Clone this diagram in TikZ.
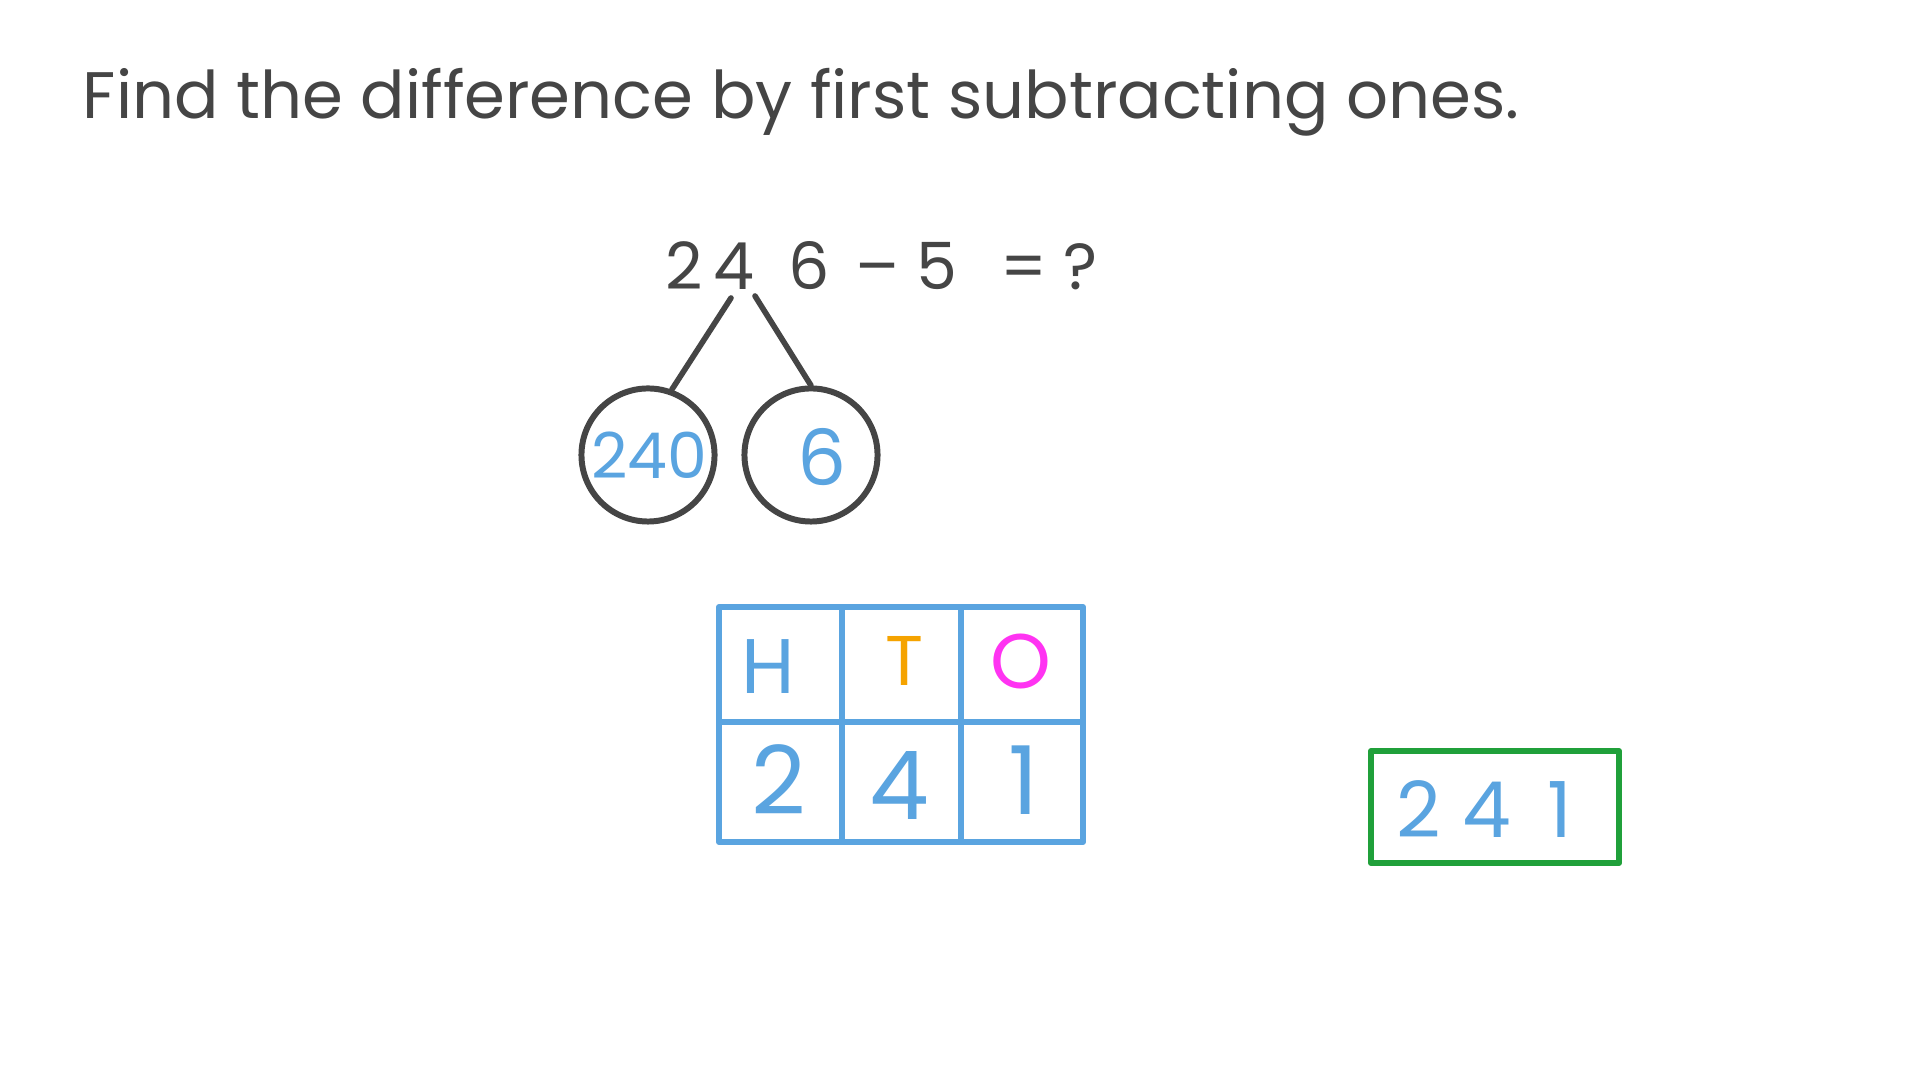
\documentclass[tikz,border=0pt]{standalone}
\usepackage{fontspec}
\setmainfont{Poppins}
\definecolor{ink}{HTML}{454545}
\definecolor{bl}{HTML}{5AA4E0}
\definecolor{org}{HTML}{F5A300}
\definecolor{mag}{HTML}{FF33F2}
\definecolor{grn}{HTML}{20A03A}
\tikzset{
  txt/.style={inner sep=0pt, outer sep=0pt},
  ring/.style={circle, draw=ink, line width=1.7pt, minimum size=1.33cm, inner sep=0pt},
  stem/.style={draw=ink, line width=1.6pt, line cap=round},
  grid/.style={draw=bl, line width=1.7pt, line cap=round, line join=round},
  answer/.style={draw=grn, line width=1.7pt, line join=round, minimum width=2.48cm, minimum height=1.12cm, inner sep=0pt}
}
\begin{document}
\begin{tikzpicture}[x=0.01cm,y=-0.01cm]
\useasboundingbox[fill=white] (0,0) rectangle (1920,1080);
% title
\node[txt, anchor=base west, text=ink, font=\fontsize{18.7}{22}\selectfont] (title) at (83,119)
  {Find the difference by first subtracting ones.};
% equation
\node[txt, anchor=base west, text=ink, font=\fontsize{18.5}{22}\selectfont] (eq) at (665,290)
  {\makebox[13.9pt][l]{2}\makebox[21.1pt][l]{4}\makebox[19.1pt][l]{6}\makebox[17.3pt][l]{–}\makebox[23.9pt][l]{5}\makebox[18pt][l]{=}?};
\coordinate (t1) at (731,298);
\coordinate (t2) at (755,296);
% circles
\node[ring] (c1) at (648,455) {};
\node[ring] (c2) at (811,455) {};
\node[txt, text=bl, font=\fontsize{18}{22}\selectfont] (n240) at (649,455) {240};
\node[txt, text=bl, font=\fontsize{22}{26}\selectfont] (n6) at (822,457) {6};
\draw[stem] (t1) -- (c1.70);
\draw[stem] (t2) -- (c2.90);
% place value table
\draw[grid] (719,607) rectangle (1083,842);
\draw[grid] (719,722) -- (1083,722);
\draw[grid] (842,607) -- (842,842);
\draw[grid] (961,607) -- (961,842);
\node[txt, text=bl, font=\fontsize{22}{26}\selectfont] (hH) at (768,667) {H};
\node[txt, text=org, font=\fontsize{20}{24}\selectfont] (hT) at (905,661) {T};
\node[txt, text=mag, font=\fontsize{22}{26}\selectfont] (hO) at (1021,662) {O};
\node[txt, text=bl, font=\fontsize{27}{30}\selectfont] (d2) at (779,780) {2};
\node[txt, text=bl, font=\fontsize{27}{30}\selectfont] (d4) at (899,786) {4};
\node[txt, text=bl, font=\fontsize{27}{30}\selectfont] (d1) at (1024,780) {1};
% answer
\node[answer] (ans) at (1495,807) {};
\node[txt, anchor=base west, text=bl, font=\fontsize{22}{26}\selectfont] (ansText) at (1396,838)
  {\makebox[18.8pt][l]{2}\makebox[24.2pt][l]{4}1};
\end{tikzpicture}
\end{document}
